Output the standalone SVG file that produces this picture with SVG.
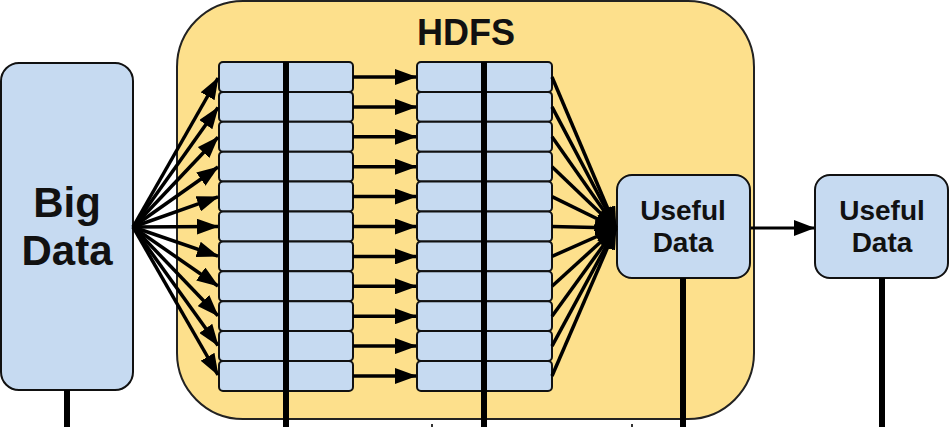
<svg xmlns="http://www.w3.org/2000/svg" width="949" height="427" viewBox="0 0 949 427">
<style>
.box{fill:#c6daf1;stroke:#111;stroke-width:2}
.row{fill:#c6daf1;stroke:#111;stroke-width:2}
.hdfs{fill:#fde08c;stroke:#222;stroke-width:2}
.lbl{font-family:"Liberation Sans",Arial,sans-serif;font-weight:bold;fill:#111;text-anchor:middle}
.arr{stroke:#000;stroke-width:3.5;fill:none;marker-end:url(#ah)}
.arr2{stroke:#000;stroke-width:3;fill:none;marker-end:url(#ah2)}
.vline{stroke:#000;stroke-width:6}
</style>
<defs>
<marker id="ah" viewBox="0 0 22 16" refX="21" refY="8" markerWidth="22" markerHeight="16" markerUnits="userSpaceOnUse" orient="auto"><path d="M0,0 L22,8 L0,16 z" fill="#000"/></marker>
<marker id="ah2" viewBox="0 0 21 16" refX="20" refY="8" markerWidth="21" markerHeight="16" markerUnits="userSpaceOnUse" orient="auto"><path d="M0,0 L21,8 L0,16 z" fill="#000"/></marker>
</defs>
<rect width="949" height="427" fill="#fff"/>
<g id="hdfs">
<rect class="hdfs" x="177" y="1" width="577" height="418" rx="66" ry="66"/>
<text class="lbl" x="466" y="45" font-size="36">HDFS</text>
</g>
<g id="bigdata">
<rect class="box" x="1" y="63" width="132" height="327" rx="18" ry="18"/>
<text class="lbl" x="67" y="217" font-size="42">Big</text>
<text class="lbl" x="67" y="265" font-size="42">Data</text>
</g>
<g id="grid1">
<rect class="row" x="219" y="62" width="134" height="29.9" rx="4"/>
<rect class="row" x="219" y="91.9" width="134" height="29.9" rx="4"/>
<rect class="row" x="219" y="121.8" width="134" height="29.9" rx="4"/>
<rect class="row" x="219" y="151.7" width="134" height="29.9" rx="4"/>
<rect class="row" x="219" y="181.6" width="134" height="29.9" rx="4"/>
<rect class="row" x="219" y="211.5" width="134" height="29.9" rx="4"/>
<rect class="row" x="219" y="241.4" width="134" height="29.9" rx="4"/>
<rect class="row" x="219" y="271.3" width="134" height="29.9" rx="4"/>
<rect class="row" x="219" y="301.2" width="134" height="29.9" rx="4"/>
<rect class="row" x="219" y="331.1" width="134" height="29.9" rx="4"/>
<rect class="row" x="219" y="361" width="134" height="29.9" rx="4"/>
</g>
<g id="grid2">
<rect class="row" x="417" y="62" width="135" height="29.9" rx="4"/>
<rect class="row" x="417" y="91.9" width="135" height="29.9" rx="4"/>
<rect class="row" x="417" y="121.8" width="135" height="29.9" rx="4"/>
<rect class="row" x="417" y="151.7" width="135" height="29.9" rx="4"/>
<rect class="row" x="417" y="181.6" width="135" height="29.9" rx="4"/>
<rect class="row" x="417" y="211.5" width="135" height="29.9" rx="4"/>
<rect class="row" x="417" y="241.4" width="135" height="29.9" rx="4"/>
<rect class="row" x="417" y="271.3" width="135" height="29.9" rx="4"/>
<rect class="row" x="417" y="301.2" width="135" height="29.9" rx="4"/>
<rect class="row" x="417" y="331.1" width="135" height="29.9" rx="4"/>
<rect class="row" x="417" y="361" width="135" height="29.9" rx="4"/>
</g>
<g id="useful1">
<rect class="box" x="617" y="175" width="133" height="103" rx="15" ry="15"/>
<text class="lbl" x="683" y="220" font-size="28">Useful</text>
<text class="lbl" x="683" y="252" font-size="28">Data</text>
</g>
<g id="useful2">
<rect class="box" x="815" y="175" width="133" height="103" rx="15" ry="15"/>
<text class="lbl" x="882" y="220" font-size="28">Useful</text>
<text class="lbl" x="882" y="252" font-size="28">Data</text>
</g>
<g id="connectors">
<line class="vline" x1="286" y1="62" x2="286" y2="427"/>
<line class="vline" x1="484" y1="62" x2="484" y2="427"/>
<line class="vline" x1="67" y1="390" x2="67" y2="427"/>
<line class="vline" x1="683" y1="278" x2="683" y2="427"/>
<line class="vline" x1="882" y1="278" x2="882" y2="427"/>
<line class="arr" x1="133" y1="227" x2="218" y2="78"/>
<line class="arr" x1="133" y1="227" x2="218" y2="107.5"/>
<line class="arr" x1="133" y1="227" x2="218" y2="137.3"/>
<line class="arr" x1="133" y1="227" x2="218" y2="167"/>
<line class="arr" x1="133" y1="227" x2="218" y2="196.8"/>
<line class="arr" x1="133" y1="227" x2="218" y2="226.5"/>
<line class="arr" x1="133" y1="227" x2="218" y2="256.2"/>
<line class="arr" x1="133" y1="227" x2="218" y2="286"/>
<line class="arr" x1="133" y1="227" x2="218" y2="315.7"/>
<line class="arr" x1="133" y1="227" x2="218" y2="345.5"/>
<line class="arr" x1="133" y1="227" x2="218" y2="375"/>
<line class="arr" x1="353" y1="77" x2="416" y2="77"/>
<line class="arr" x1="353" y1="106.9" x2="416" y2="106.9"/>
<line class="arr" x1="353" y1="136.8" x2="416" y2="136.8"/>
<line class="arr" x1="353" y1="166.7" x2="416" y2="166.7"/>
<line class="arr" x1="353" y1="196.6" x2="416" y2="196.6"/>
<line class="arr" x1="353" y1="226.5" x2="416" y2="226.5"/>
<line class="arr" x1="353" y1="256.4" x2="416" y2="256.4"/>
<line class="arr" x1="353" y1="286.3" x2="416" y2="286.3"/>
<line class="arr" x1="353" y1="316.2" x2="416" y2="316.2"/>
<line class="arr" x1="353" y1="346.1" x2="416" y2="346.1"/>
<line class="arr" x1="353" y1="376" x2="416" y2="376"/>
<line class="arr" x1="552" y1="77" x2="616" y2="228"/>
<line class="arr" x1="552" y1="106.9" x2="616" y2="228"/>
<line class="arr" x1="552" y1="136.8" x2="616" y2="228"/>
<line class="arr" x1="552" y1="166.7" x2="616" y2="228"/>
<line class="arr" x1="552" y1="196.6" x2="616" y2="228"/>
<line class="arr" x1="552" y1="226.5" x2="616" y2="228"/>
<line class="arr" x1="552" y1="256.4" x2="616" y2="228"/>
<line class="arr" x1="552" y1="286.3" x2="616" y2="228"/>
<line class="arr" x1="552" y1="316.2" x2="616" y2="228"/>
<line class="arr" x1="552" y1="346.1" x2="616" y2="228"/>
<line class="arr" x1="552" y1="376" x2="616" y2="228"/>
<line class="arr2" x1="751" y1="228" x2="814" y2="228"/>
<line x1="432" y1="424" x2="432" y2="427" stroke="#333" stroke-width="2"/>
<line x1="632" y1="424" x2="632" y2="427" stroke="#333" stroke-width="2"/>
</g>
</svg>
